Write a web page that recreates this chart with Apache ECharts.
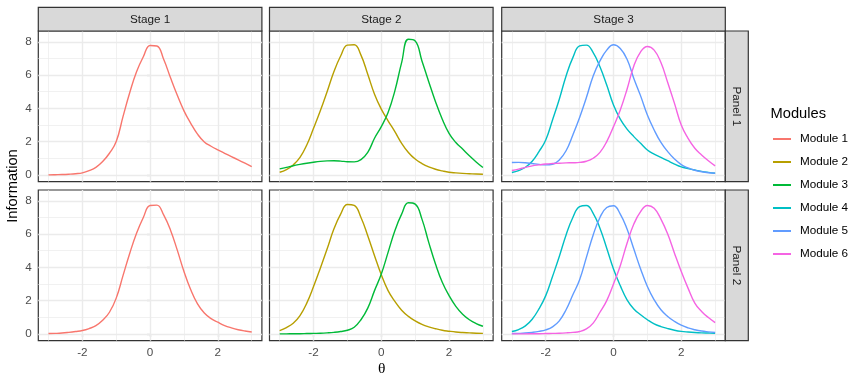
<!DOCTYPE html>
<html><head><meta charset="utf-8">
<script src="https://cdn.jsdelivr.net/npm/echarts@6/dist/echarts.min.js"></script>
<style>html,body{margin:0;padding:0;background:#fff}#c{width:864px;height:384px}</style>
</head><body><div id="c"></div>
<script>
// theta grid
const theta = [-3.0,-2.8,-2.6,-2.4,-2.2,-2.0,-1.8,-1.6,-1.4,-1.2,-1.0,-0.8,-0.6,-0.4,-0.2,0.0,0.2,0.4,0.6,0.8,1.0,1.2,1.4,1.6,1.8,2.0,2.2,2.4,2.6,2.8,3.0];
// Panel 1
const p1m1 = [0.00,0.01,0.02,0.04,0.07,0.12,0.25,0.45,0.80,1.30,2.00,3.50,4.95,6.20,7.10,7.78,7.75,6.95,5.85,4.80,3.85,3.10,2.45,1.98,1.72,1.50,1.30,1.10,0.90,0.70,0.50];
const p1m2 = [0.16,0.32,0.60,1.05,1.80,2.80,3.85,5.00,6.20,7.15,7.80,7.82,7.20,6.05,4.85,3.95,3.25,2.60,1.90,1.35,0.95,0.68,0.48,0.34,0.24,0.16,0.12,0.09,0.07,0.05,0.04];
const p1m3 = [0.36,0.45,0.55,0.63,0.70,0.76,0.81,0.84,0.85,0.83,0.79,0.78,0.92,1.35,2.20,2.90,3.75,5.05,6.75,8.15,8.05,6.85,5.60,4.40,3.35,2.50,1.95,1.55,1.15,0.78,0.44];
const p1m4 = [0.14,0.26,0.46,0.82,1.40,2.10,3.30,4.55,5.95,7.05,7.75,7.80,7.35,6.50,5.40,4.20,3.35,2.75,2.30,1.90,1.50,1.25,1.05,0.85,0.65,0.48,0.38,0.29,0.21,0.15,0.10];
const p1m5 = [0.74,0.75,0.73,0.68,0.63,0.60,0.64,0.90,1.45,2.40,3.45,4.65,5.95,6.85,7.50,7.82,7.60,6.95,5.80,4.75,3.60,2.70,1.95,1.40,0.95,0.62,0.42,0.28,0.19,0.13,0.10];
const p1m6 = [0.26,0.35,0.45,0.54,0.60,0.65,0.68,0.70,0.72,0.73,0.75,0.82,1.00,1.35,2.00,2.90,3.90,5.15,6.55,7.40,7.72,7.50,6.75,5.55,4.30,3.00,2.20,1.60,1.20,0.85,0.54];
// Panel 2
const p2m1 = [0.02,0.03,0.05,0.09,0.14,0.20,0.32,0.50,0.82,1.30,2.15,3.50,4.85,6.05,7.00,7.72,7.74,7.15,6.25,5.05,3.75,2.65,1.80,1.25,0.92,0.70,0.50,0.36,0.25,0.17,0.11];
const p2m2 = [0.20,0.38,0.64,1.10,1.85,2.85,3.95,5.10,6.30,7.20,7.78,7.72,7.00,5.90,4.70,3.55,2.60,1.95,1.42,1.05,0.78,0.57,0.42,0.31,0.22,0.16,0.11,0.08,0.06,0.04,0.03];
const p2m3 = [0.00,0.00,0.01,0.01,0.02,0.03,0.04,0.06,0.09,0.14,0.22,0.40,0.85,1.55,2.60,3.60,4.90,6.20,7.20,7.88,7.80,6.90,5.50,4.20,3.10,2.30,1.65,1.18,0.85,0.62,0.46];
const p2m4 = [0.14,0.26,0.48,0.88,1.50,2.30,3.45,4.65,5.95,7.00,7.65,7.72,7.25,6.35,5.15,3.90,2.90,2.05,1.50,1.15,0.85,0.60,0.44,0.32,0.22,0.15,0.11,0.08,0.06,0.05,0.04];
const p2m5 = [0.02,0.03,0.05,0.09,0.15,0.24,0.42,0.78,1.45,2.35,3.25,4.60,5.95,7.00,7.60,7.70,7.20,6.30,5.10,3.90,2.85,2.05,1.45,1.05,0.75,0.52,0.36,0.25,0.17,0.12,0.08];
const p2m6 = [0.00,0.00,0.00,0.01,0.01,0.02,0.03,0.04,0.06,0.09,0.14,0.30,0.65,1.30,2.00,3.00,4.10,5.45,6.60,7.35,7.72,7.55,6.90,6.00,4.85,3.75,2.75,1.85,1.35,0.98,0.68];

const stages = ['Stage 1','Stage 2','Stage 3'];
const panelNames = ['Panel 1','Panel 2'];
const modules = ['Module 1','Module 2','Module 3','Module 4','Module 5','Module 6'];
const moduleColors = ['#F8766D','#B79F00','#00BA38','#00BFC4','#619CFF','#F564E3'];
const xMajor = [-2,0,2];
const xMinor = [-3,-1,1,3];
const yMajor = [0,2,4,6,8];
const yMinor = [1,3,5,7];
const xRange = [-3.3,3.3];
const yRange = [-0.41,8.65];

// which module curves go in which facet: [row][col] -> list of [moduleIndex, values]
const facets = [
  [ [[0,p1m1]], [[1,p1m2],[2,p1m3]], [[3,p1m4],[4,p1m5],[5,p1m6]] ],
  [ [[0,p2m1]], [[1,p2m2],[2,p2m3]], [[3,p2m4],[4,p2m5],[5,p2m6]] ]
];

const FONT = '"Liberation Sans", Arial, Helvetica, sans-serif';
const colLeft = [38.3, 269.5, 501.7];
const colW = 223.6;
const rowTop = [31, 190];
const rowH = 150.7;

const grids = [], xAxes = [], yAxes = [], series = [], graphics = [];
for (let r = 0; r < 2; r++) {
  for (let c = 0; c < 3; c++) {
    const g = r * 3 + c;
    grids.push({left: colLeft[c], top: rowTop[r], width: colW, height: rowH,
      show: true, backgroundColor: '#ffffff', borderColor: '#333333', borderWidth: 1.2,
      containLabel: false, outerBoundsMode: 'none'});
    xAxes.push({type: 'value', gridIndex: g, min: xRange[0], max: xRange[1],
      axisLine: {show: false}, splitLine: {show: false},
      axisTick: {show: r === 1, customValues: xMajor, length: 3.7, lineStyle: {color: '#333333', width: 1.1}},
      axisLabel: {show: r === 1, customValues: xMajor, color: '#4D4D4D', fontSize: 11.7, margin: 6.4, fontFamily: FONT}});
    yAxes.push({type: 'value', gridIndex: g, min: yRange[0], max: yRange[1],
      axisLine: {show: false}, splitLine: {show: false},
      axisTick: {show: c === 0, customValues: yMajor, length: 3.7, lineStyle: {color: '#333333', width: 1.1}},
      axisLabel: {show: c === 0, customValues: yMajor, color: '#4D4D4D', fontSize: 11.7, margin: 6.6, fontFamily: FONT}});
    const gl = [];
    xMinor.forEach(v => gl.push({xAxis: v, lineStyle: {color: '#EBEBEB', width: 0.7, type: 'solid'}}));
    yMinor.forEach(v => gl.push({yAxis: v, lineStyle: {color: '#EBEBEB', width: 0.7, type: 'solid'}}));
    xMajor.forEach(v => gl.push({xAxis: v, lineStyle: {color: '#EBEBEB', width: 1.4, type: 'solid'}}));
    yMajor.forEach(v => gl.push({yAxis: v, lineStyle: {color: '#EBEBEB', width: 1.4, type: 'solid'}}));
    series.push({type: 'line', xAxisIndex: g, yAxisIndex: g, data: [], silent: true, z: 1,
      animation: false, symbol: 'none',
      markLine: {silent: true, z: 1, symbol: ['none','none'], label: {show: false}, animation: false, data: gl}});
    facets[r][c].forEach(([m, vals]) => {
      series.push({type: 'line', name: modules[m], xAxisIndex: g, yAxisIndex: g,
        data: theta.map((t, i) => [t, vals[i]]), smooth: 0.45, symbol: 'none', showSymbol: false,
        lineStyle: {width: 1.4, color: moduleColors[m]}, itemStyle: {color: moduleColors[m]},
        z: 8, animation: false, silent: true});
    });
  }
}
// strips
for (let c = 0; c < 3; c++) {
  graphics.push({type: 'rect', shape: {x: colLeft[c], y: 7.3, width: colW, height: 23.7},
    style: {fill: '#D9D9D9', stroke: '#333333', lineWidth: 1.2}, z: 10});
  graphics.push({type: 'text', x: colLeft[c] + colW / 2, y: 19.4,
    style: {text: stages[c], align: 'center', verticalAlign: 'middle', fontSize: 11.7, fill: '#1A1A1A', fontFamily: FONT}, z: 11});
}
for (let r = 0; r < 2; r++) {
  graphics.push({type: 'rect', shape: {x: 725.3, y: rowTop[r], width: 23, height: rowH},
    style: {fill: '#D9D9D9', stroke: '#333333', lineWidth: 1.2}, z: 10});
  graphics.push({type: 'text', x: 736.6, y: rowTop[r] + rowH / 2, rotation: -Math.PI / 2,
    style: {text: panelNames[r], align: 'center', verticalAlign: 'middle', fontSize: 11.7, fill: '#1A1A1A', fontFamily: FONT}, z: 11});
}
graphics.push({type: 'text', x: 12.5, y: 186, rotation: Math.PI / 2,
  style: {text: 'Information', align: 'center', verticalAlign: 'middle', fontSize: 14.7, fill: '#000', fontFamily: FONT}});
graphics.push({type: 'text', x: 381.8, y: 368.5,
  style: {text: 'θ', align: 'center', verticalAlign: 'middle', fontSize: 15.5, fill: '#000', fontFamily: '"Liberation Serif", "DejaVu Serif", serif'}});
graphics.push({type: 'text', x: 770.5, y: 114,
  style: {text: 'Modules', align: 'left', verticalAlign: 'middle', fontSize: 14.7, fill: '#000', fontFamily: FONT}});

const chart = echarts.init(document.getElementById('c'), null, {renderer: 'canvas'});
chart.setOption({
  animation: false,
  backgroundColor: '#ffffff',
  grid: grids, xAxis: xAxes, yAxis: yAxes, series: series,
  legend: {data: modules, orient: 'vertical', left: 773, top: 132, itemWidth: 18, itemHeight: 2,
    icon: 'rect', itemGap: 9, padding: 0, selectedMode: false,
    textStyle: {fontSize: 11.7, color: '#000', fontFamily: FONT, lineHeight: 14, padding: [0,0,0,4]}},
  graphic: graphics
});
</script></body></html>
